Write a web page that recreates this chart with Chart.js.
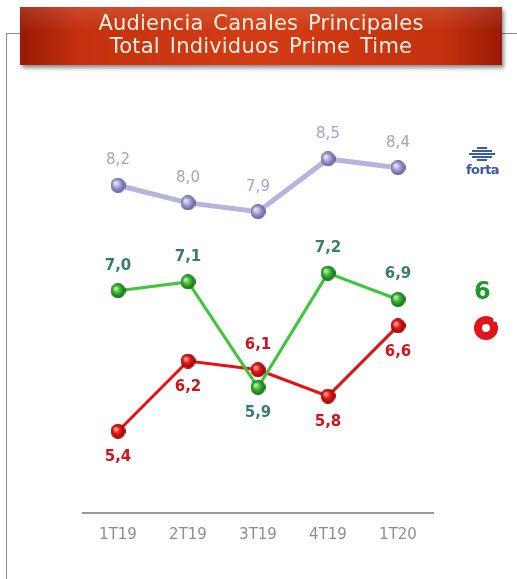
<!DOCTYPE html>
<html>
<head>
<meta charset="utf-8">
<script src="https://cdn.jsdelivr.net/npm/chart.js@4.4.1/dist/chart.umd.min.js"></script>
<style>
  html, body { margin: 0; padding: 0; background: #fff; }
  body { width: 517px; height: 579px; position: relative; overflow: hidden; font-family: "DejaVu Sans", Verdana, sans-serif; }
  #frame { position: absolute; left: 6px; top: 33px; width: 520px; height: 560px; border-left: 1px solid #8c8c8c; border-top: 1px solid #8c8c8c; }
  #wrap { position: absolute; left: 0; top: 0; width: 517px; height: 579px; }
  #banner {
    position: absolute; left: 20px; top: 7px; width: 482px; height: 58px;
    background: linear-gradient(90deg, #9a1a06 0%, #c4300e 12%, #d43c14 50%, #c4300e 88%, #9a1a06 100%);
    box-shadow: 2px 3px 4px rgba(0,0,0,0.45);
    color: #fbefe0; text-align: center; font-size: 21px; line-height: 23px; padding-top: 5px; box-sizing: border-box;
    word-spacing: 3px; letter-spacing: 0.2px;
  }
  #banner:before { content: ""; position: absolute; left: 0; top: 0; right: 0; height: 24px;
    background: linear-gradient(180deg, rgba(255,255,255,0.12), rgba(255,255,255,0)); }
  .logo { position: absolute; }
  #forta { left: 466px; top: 147px; width: 32px; text-align: center; }
  #forta .bar { height: 2px; background: #3a5aa8; margin: 0 auto 1px; }
  #forta span { display: block; font: bold 13px "DejaVu Sans", sans-serif; color: #3a5aa8; letter-spacing: -0.6px; margin-top: 0; }
  #sexta { left: 474px; top: 278px; font: bold 24px "DejaVu Sans", sans-serif; color: #1f9a2a; line-height: 26px; }
  #cuatro { left: 474px; top: 316px; width: 8px; height: 8px; border: 8px solid #e0141a; border-radius: 50%; }
  #cuatro:after { content: ""; position: absolute; right: -7px; top: -6px; width: 4px; height: 4px; border-radius: 50%; background: #fff; }
</style>
</head>
<body>
<div id="frame"></div>
<div id="wrap"><canvas id="chart" width="517" height="579"></canvas></div>
<div id="banner">Audiencia Canales Principales<br>Total Individuos Prime Time</div>
<div class="logo" id="forta">
  <div class="bar" style="width:10px"></div>
  <div class="bar" style="width:20px"></div>
  <div class="bar" style="width:26px"></div>
  <div class="bar" style="width:20px"></div>
  <div class="bar" style="width:10px"></div>
  <span>forta</span>
</div>
<div class="logo" id="sexta">6</div>
<div class="logo" id="cuatro"></div>
<script>
const quarters = ["1T19", "2T19", "3T19", "4T19", "1T20"];
const forta = [8.2, 8.0, 7.9, 8.5, 8.4];
const laSexta = [7.0, 7.1, 5.9, 7.2, 6.9];
const cuatro = [5.4, 6.2, 6.1, 5.8, 6.6];
// where each value label goes
const fortaLabelPos = ["up", "up", "up", "up", "up"];
const sextaLabelPos = ["up", "up", "down", "up", "up"];
const cuatroLabelPos = ["down", "down", "up", "down", "down"];

function ball(light, mid, dark) {
  const c = document.createElement("canvas");
  const r = 7.5;
  c.width = c.height = r * 2;
  const g = c.getContext("2d");
  const grad = g.createRadialGradient(r - 2.5, r - 2.5, 0.5, r, r, r);
  grad.addColorStop(0, light);
  grad.addColorStop(0.45, mid);
  grad.addColorStop(1, dark);
  g.fillStyle = grad;
  g.beginPath();
  g.arc(r, r, r, 0, Math.PI * 2);
  g.fill();
  return c;
}

const valueLabels = {
  id: "valueLabels",
  afterDatasetsDraw(chart) {
    const ctx = chart.ctx;
    ctx.save();
    ctx.textAlign = "center";
    ctx.textBaseline = "middle";
    chart.data.datasets.forEach((ds, i) => {
      const meta = chart.getDatasetMeta(i);
      ctx.font = ds.labelFont;
      ctx.fillStyle = ds.labelColor;
      meta.data.forEach((pt, j) => {
        const txt = ds.data[j].toFixed(1).replace(".", ",");
        const dy = ds.labelPos[j] === "up" ? -25 : 26;
        ctx.fillText(txt, pt.x, pt.y + dy);
      });
    });
    ctx.restore();
  }
};

new Chart(document.getElementById("chart"), {
  type: "line",
  data: {
    labels: quarters,
    datasets: [
      {
        data: forta,
        borderColor: "#b4b4de",
        borderWidth: 5,
        pointStyle: ball("#eeeeff", "#a4a4d4", "#5c5c94"),
        labelColor: "#a2a2d2",
        labelFont: "15px 'DejaVu Sans'",
        labelPos: fortaLabelPos,
      },
      {
        data: laSexta,
        borderColor: "#3ec63a",
        borderWidth: 3,
        pointStyle: ball("#c6f5b8", "#3cb830", "#10661a"),
        labelColor: "#3a7d70",
        labelFont: "bold 15px 'DejaVu Sans'",
        labelPos: sextaLabelPos,
      },
      {
        data: cuatro,
        borderColor: "#ea1010",
        borderWidth: 3,
        pointStyle: ball("#ffb0a8", "#e81818", "#8a0606"),
        labelColor: "#d0141c",
        labelFont: "bold 15px 'DejaVu Sans'",
        labelPos: cuatroLabelPos,
      },
    ]
  },
  options: {
    responsive: false,
    animation: false,
    layout: { padding: { left: 83, right: 84, top: 115, bottom: 22 } },
    plugins: { legend: { display: false }, tooltip: { enabled: false } },
    elements: { line: { tension: 0 }, point: { radius: 7 } },
    scales: {
      x: {
        offset: true,
        grid: { display: false, drawTicks: false },
        border: { color: "#9a9a9a", width: 2 },
        ticks: { color: "#8e8e8e", font: { family: "DejaVu Sans", size: 15 }, padding: 13 }
      },
      y: { display: false, min: 4.47, max: 9.0 }
    }
  },
  plugins: [valueLabels]
});
</script>
</body>
</html>
